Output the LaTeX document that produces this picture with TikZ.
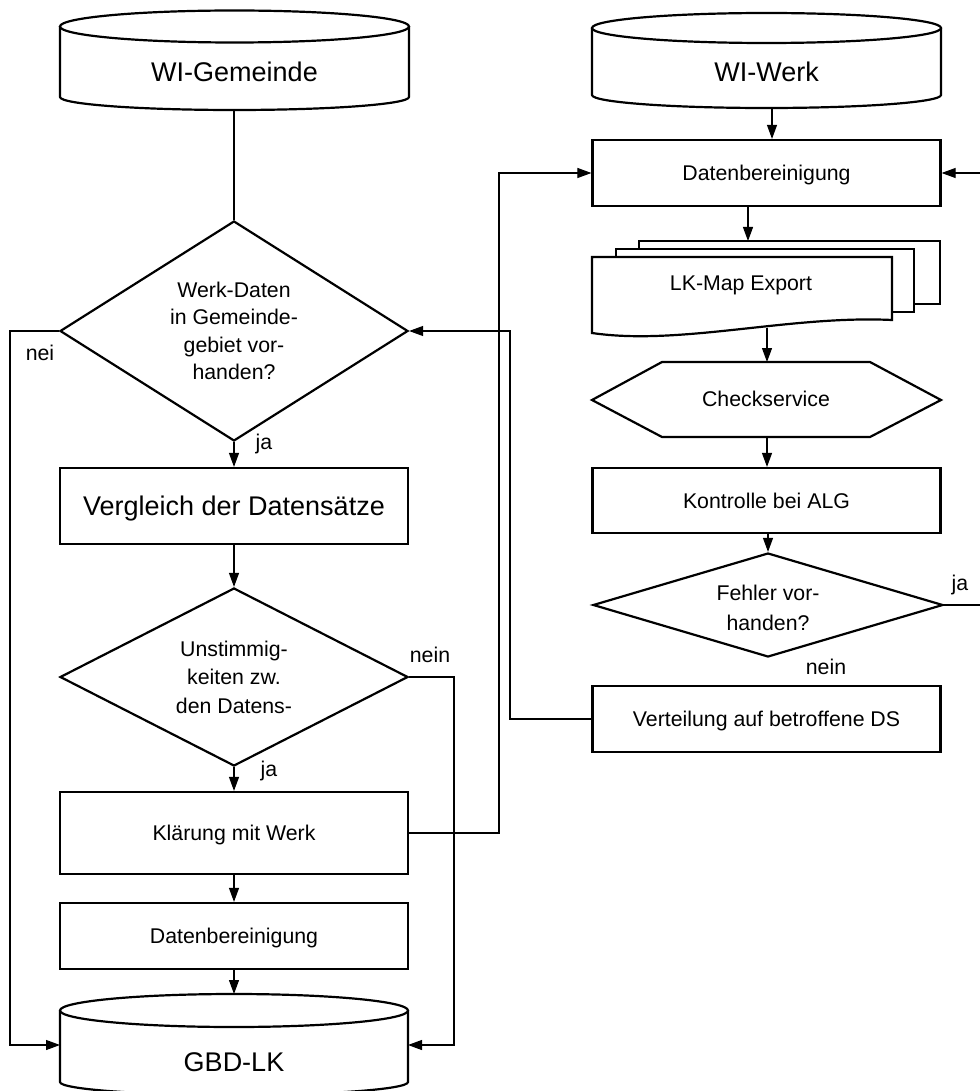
\documentclass[tikz,border=0pt]{standalone}
\usepackage{fontspec}
\setmainfont{Liberation Sans}
\usetikzlibrary{arrows.meta,shapes.geometric,calc}
\begin{document}
\begin{tikzpicture}[x=1pt,y=-1pt,
  outl/.style={draw,line width=2.2pt},
  box/.style={outl,inner sep=0pt,minimum width=348pt,minimum height=66pt,
    text height=15pt,text depth=0pt,font=\fontsize{21.3}{27}\selectfont},
  bigbox/.style={box,text height=19pt,font=\fontsize{27}{30}\selectfont},
  conn/.style={line width=1.1pt},
  arr/.style={conn,-{Triangle[length=14pt,width=10pt]}},
  txt/.style={inner sep=0pt,align=center,font=\fontsize{21.3}{27}\selectfont},
  bigtxt/.style={inner sep=0pt,font=\fontsize{27}{30}\selectfont},
  dia/.style={outl,diamond,inner sep=0pt},
]
\useasboundingbox (0,0) rectangle (979,1091);
\fill[white] (0,0) rectangle (979,1091);

% ---------- cylinders ----------
% WI-Gemeinde
\draw[outl] (60,26.5) -- (60,97) arc[start angle=180,end angle=360,x radius=174.5pt,y radius=13pt] -- (409,26.5);
\draw[outl,fill=white] (234.5,26.5) ellipse[x radius=174.5pt,y radius=16pt];
\node[bigtxt] (wig) at (234.5,72) {WI-Gemeinde};
\coordinate (wig-s) at (234,110);
% WI-Werk
\draw[outl] (592,28) -- (592,95) arc[start angle=180,end angle=360,x radius=174.5pt,y radius=13pt] -- (941,28);
\draw[outl,fill=white] (766.5,28) ellipse[x radius=174.5pt,y radius=15pt];
\node[bigtxt] (wiw) at (766.5,72) {WI-Werk};
\coordinate (wiw-s) at (772,108);
% GBD-LK
\draw[outl] (60,1010.5) -- (60,1082) arc[start angle=180,end angle=360,x radius=174pt,y radius=13pt] -- (408,1010.5);
\draw[outl,fill=white] (234,1010.5) ellipse[x radius=174pt,y radius=16.5pt];
\node[bigtxt] (gbd) at (234,1062) {GBD-LK};
\coordinate (gbd-n) at (234,994);
\coordinate (gbd-w) at (60,1045);
\coordinate (gbd-e) at (408,1045);

% ---------- left column ----------
\node[dia,minimum width=348pt,minimum height=220pt] (dia1) at (234,331) {};
\node[txt,font=\fontsize{21.3}{27.3}\selectfont] (dia1t) at (234,331) {Werk-Daten\\in Gemeinde-\\gebiet vor-\\handen?};
\node[bigbox,minimum height=76pt] (vgl) at (234,506) {Vergleich der Datensätze};
\node[dia,minimum width=348pt,minimum height=178pt] (dia2) at (234,677) {};
\node[txt,font=\fontsize{21.3}{28.5}\selectfont] (dia2t) at (234,677) {Unstimmig-\\keiten zw.\\den Datens-};
\node[box,minimum height=82pt] (klr) at (234,833) {Klärung mit Werk};
\node[box] (dbl) at (234,936) {Datenbereinigung};

\node[txt] (nei) at (40,353) {nei};
\node[txt] (ja1) at (264,444) {ja};
\node[txt] (nein1) at (430,655) {nein};
\node[txt] (ja2) at (269,771) {ja};

% ---------- right column ----------
\node[box] (dbr) at (766.5,173) {Datenbereinigung};
% multi document
\draw[outl,fill=white] (639,241) rectangle (940,304);
\draw[outl,fill=white] (616,249) rectangle (914,312);
\draw[outl,fill=white] (592,257) -- (892,257) -- (892,320)
   .. controls (790,315) and (680,346) .. (592,333) -- cycle;
\node[txt] (doc) at (741,285) {LK-Map Export};
\coordinate (doc-n) at (748,241);
\coordinate (doc-s) at (767,328);
% hexagon
\draw[outl] (592,400) -- (662,362) -- (870,362) -- (941,400) -- (870,437) -- (662,437) -- cycle;
\node[txt] (chk) at (766,399) {Checkservice};
\coordinate (hex-n) at (767,362);
\coordinate (hex-s) at (767,437);
\node[box,minimum height=65pt] (kon) at (766.5,500.5) {Kontrolle bei ALG};
\node[dia,minimum width=350pt,minimum height=104pt] (dia3) at (768,605) {};
\node[txt,font=\fontsize{21.3}{30}\selectfont] (dia3t) at (768,608) {Fehler vor-\\handen?};
\node[box] (ver) at (766.5,719) {Verteilung auf betroffene DS};
\node[txt] (ja3) at (960,585) {ja};
\node[txt] (nein3) at (826,667) {nein};

% ---------- connectors ----------
\draw[conn] (wig-s) -- (dia1.north);
\draw[arr] (dia1.south) -- (vgl.north);
\draw[arr] (vgl.south) -- (dia2.north);
\draw[arr] (dia2.south) -- (klr.north);
\draw[arr] (klr.south) -- (dbl.north);
\draw[arr] (dbl.south) -- (gbd-n);
\draw[arr] (dia1.west) -- (10,331) |- (gbd-w);
\draw[arr] (dia2.east) -- (454,677) |- (gbd-e);

\draw[arr] (wiw-s) -- (wiw-s |- dbr.north);
\draw[arr] (doc-n |- dbr.south) -- (doc-n);
\draw[arr] (doc-s) -- (hex-n);
\draw[arr] (hex-s) -- (hex-s |- kon.north);
\draw[arr] (kon.south -| dia3.north) -- (dia3.north);
\draw[arr] (dia3.east) -- (981,605) |- (dbr.east);
\draw[arr] (ver.west) -- (510,719) |- (dia1.east);
\draw[arr] (klr.east) -- (499,833) |- (dbr.west);
\end{tikzpicture}
\end{document}
